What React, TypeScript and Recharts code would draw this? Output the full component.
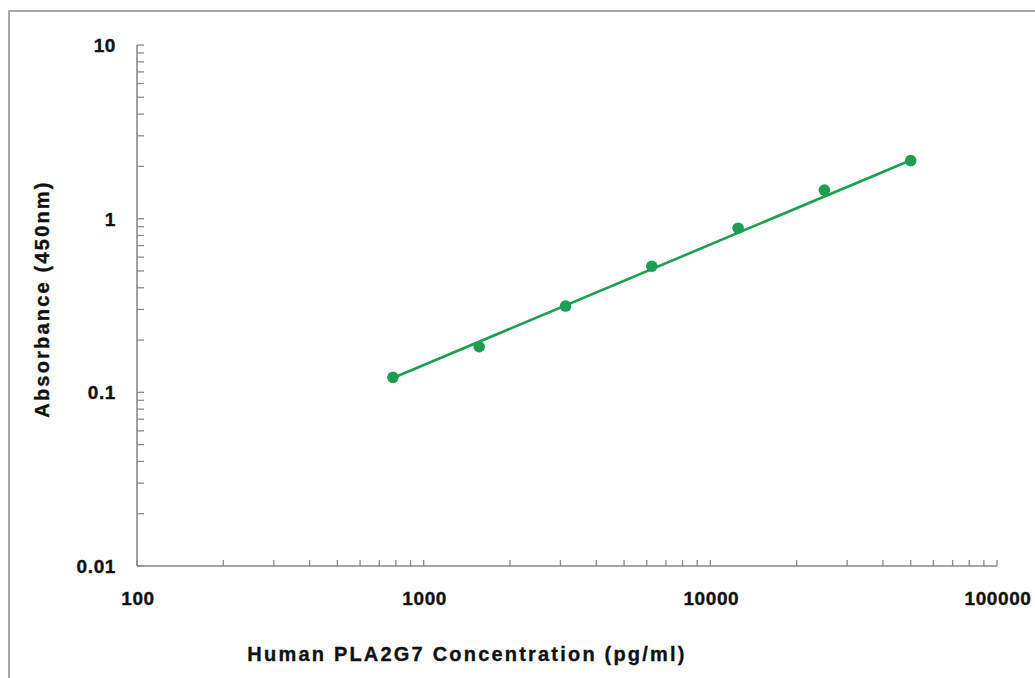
import React from 'react';
import { ScatterChart, Scatter, XAxis, YAxis, Label } from 'recharts';

// Standard concentrations (pg/ml) and measured absorbance (450nm)
const concentrations = [781.25, 1562.5, 3125, 6250, 12500, 25000, 50000];
const absorbance = [0.122, 0.183, 0.314, 0.532, 0.881, 1.46, 2.16];

// Fitted standard curve end points
const fitConcentrations = [781.25, 50000];
const fitAbsorbance = [0.121, 2.17];

// Axis ticks
const xMajorTicks = [100, 1000, 10000, 100000];
const yMajorTicks = [0.01, 0.1, 1, 10];
const yTickLabels = ['0.01', '0.1', '1', '10'];
const xTickLabels = ['100', '1000', '10000', '100000'];
const minorMultipliers = [2, 3, 4, 5, 6, 7, 8, 9];

const buildTicks = (majors: number[]) => {
  const out: number[] = [];
  majors.forEach((m, i) => {
    out.push(m);
    if (i < majors.length - 1) minorMultipliers.forEach((k) => out.push(+(m * k).toPrecision(6)));
  });
  return out;
};
const xTicks = buildTicks(xMajorTicks);
const yTicks = buildTicks(yMajorTicks);

const points = concentrations.map((x, i) => ({ x, y: absorbance[i] }));
const fit = fitConcentrations.map((x, i) => ({ x, y: fitAbsorbance[i] }));

const GREEN = '#1e9e52';
const AXIS = '#8a8a8a';
const FONT = '"Liberation Sans", Arial, sans-serif';
const TEXT = '#111';

const XTick = (props: any) => {
  const { x, y, payload } = props;
  const idx = xMajorTicks.indexOf(payload.value);
  return (
    <g>
      <line x1={x} x2={x} y1={y} y2={y - 6} stroke={AXIS} strokeWidth={1.3} />
      {idx >= 0 && (
        <text
          x={x + 1}
          y={y + 39}
          textAnchor="middle"
          fontFamily={FONT}
          fontWeight="bold"
          fontSize={19}
          letterSpacing={0.6}
          fill={TEXT}
          stroke={TEXT}
          strokeWidth={0.35}
        >
          {xTickLabels[idx]}
        </text>
      )}
    </g>
  );
};

const YTick = (props: any) => {
  const { x, y, payload } = props;
  const idx = yMajorTicks.findIndex((v) => Math.abs(v - payload.value) < 1e-9);
  return (
    <g>
      <line x1={x} x2={x + 7} y1={y} y2={y} stroke={AXIS} strokeWidth={1.3} />
      {idx >= 0 && (
        <text
          x={x - 21}
          y={y + 7}
          textAnchor="end"
          fontFamily={FONT}
          fontWeight="bold"
          fontSize={19}
          letterSpacing={0.6}
          fill={TEXT}
          stroke={TEXT}
          strokeWidth={0.35}
        >
          {yTickLabels[idx]}
        </text>
      )}
    </g>
  );
};

const Dot = (props: any) => {
  const { cx, cy } = props;
  return <circle cx={cx} cy={cy} r={5.8} fill={GREEN} />;
};

const NoDot = () => null;

export default function App() {
  return (
    <div
      style={{
        position: 'absolute',
        left: 0,
        top: 0,
        width: 1035,
        height: 678,
        overflow: 'hidden',
        background: '#fff',
      }}
    >
      <div
        style={{
          position: 'absolute',
          left: 8,
          top: 10,
          width: 1200,
          height: 1000,
          border: '2px solid #a8a8a8',
          boxSizing: 'border-box',
        }}
      />
      <div style={{ position: 'absolute', left: 0, top: 0 }}>
        <ScatterChart width={1035} height={678} margin={{ top: 45, right: 38, bottom: 0, left: 0 }}>
          <XAxis
            type="number"
            dataKey="x"
            scale="log"
            domain={[100, 100000]}
            allowDataOverflow
            ticks={xTicks}
            interval={0}
            tick={<XTick />}
            tickLine={false}
            tickSize={0}
            tickMargin={0}
            axisLine={{ stroke: AXIS, strokeWidth: 1.6 }}
            height={112}
          >
            <Label
              content={() => (
                <text
                  x={467}
                  y={661}
                  textAnchor="middle"
                  fontFamily={FONT}
                  fontWeight="bold"
                  fontSize={20}
                  letterSpacing={2.2}
                  fill={TEXT}
                  stroke={TEXT}
                  strokeWidth={0.35}
                >
                  Human PLA2G7 Concentration (pg/ml)
                </text>
              )}
            />
          </XAxis>
          <YAxis
            type="number"
            dataKey="y"
            scale="log"
            domain={[0.01, 10]}
            allowDataOverflow
            ticks={yTicks}
            interval={0}
            tick={<YTick />}
            tickLine={false}
            tickSize={0}
            tickMargin={0}
            axisLine={{ stroke: AXIS, strokeWidth: 1.6 }}
            width={137}
          >
            <Label
              content={() => (
                <text
                  transform="translate(49 299) rotate(-90)"
                  textAnchor="middle"
                  fontFamily={FONT}
                  fontWeight="bold"
                  fontSize={20}
                  letterSpacing={2.2}
                  fill={TEXT}
                  stroke={TEXT}
                  strokeWidth={0.35}
                >
                  Absorbance (450nm)
                </text>
              )}
            />
          </YAxis>
          <Scatter
            data={fit}
            line={{ stroke: GREEN, strokeWidth: 2.6 }}
            shape={<NoDot />}
            isAnimationActive={false}
          />
          <Scatter data={points} shape={<Dot />} isAnimationActive={false} />
        </ScatterChart>
      </div>
    </div>
  );
}
